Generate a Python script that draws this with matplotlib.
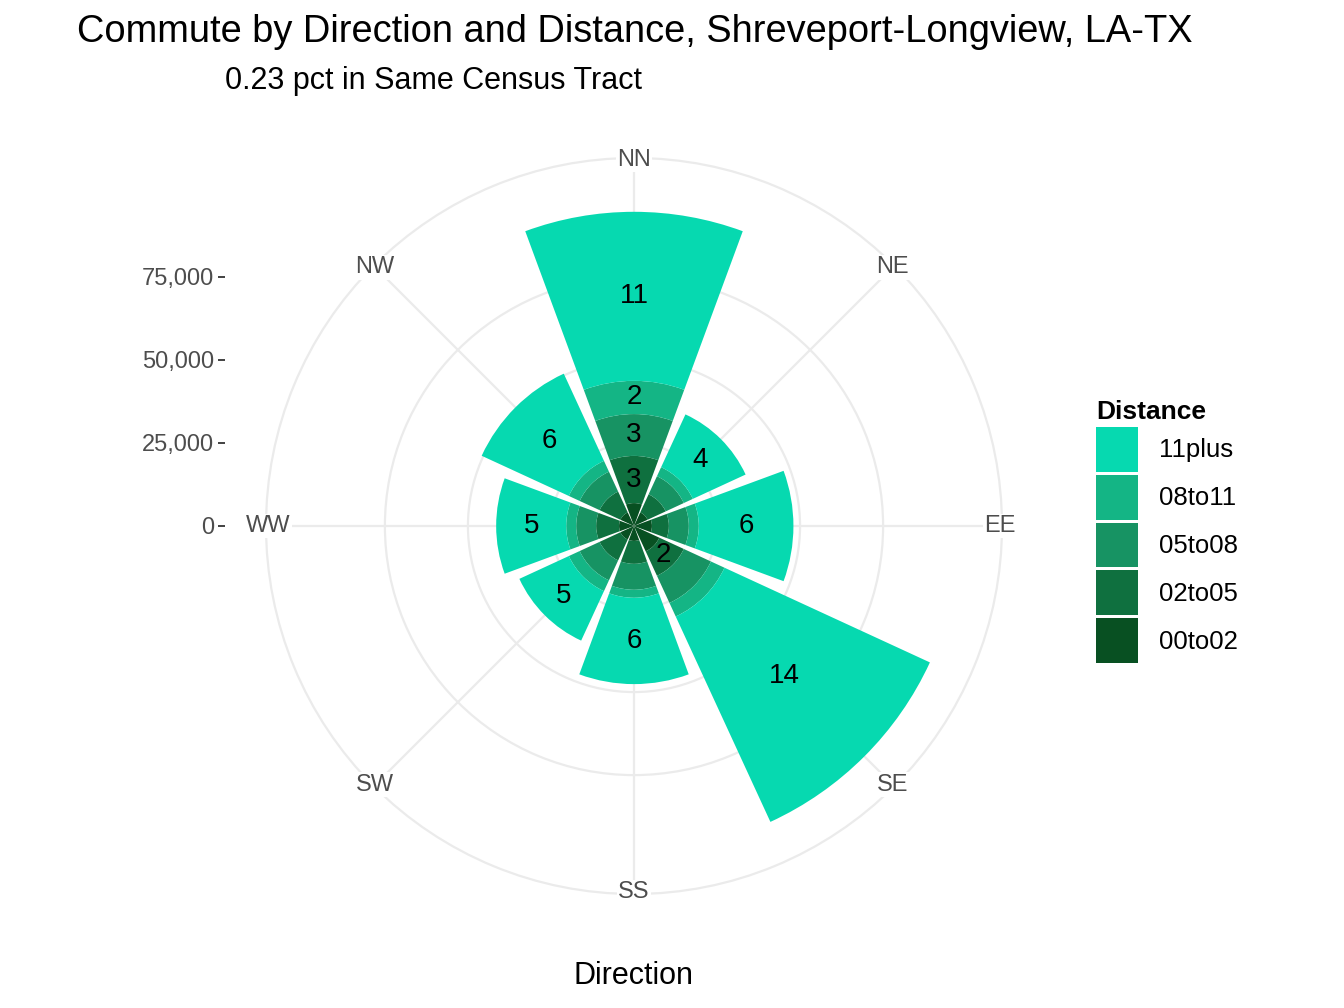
import matplotlib.pyplot as plt
import numpy as np
from matplotlib.patches import Patch

plt.rcParams["font.family"] = "Liberation Sans"

directions = ["NN", "NE", "EE", "SE", "SS", "SW", "WW", "NW"]
categories = ["00to02", "02to05", "05to08", "08to11", "11plus"]
colors = ["#085022", "#0f703f", "#179363", "#14b585", "#06d9b0"]

# commuters per direction, per distance band (stack order inner -> outer)
d00to02 = [6900, 4500, 5400, 8400, 4500, 4500, 4500, 4500]
d02to05 = [14200, 6000, 5100, 8100, 6900, 6900, 6900, 6900]
d05to08 = [12600, 6000, 6000, 9000, 7800, 6600, 6000, 6600]
d08to11 = [10000, 3000, 3000, 4500, 2400, 3600, 3000, 3600]
d11plus = [50900, 17500, 28500, 68100, 26000, 16400, 21100, 28900]

# percentage labels per band ("" = not shown)
lab02to05 = ["3", "", "", "2", "", "", "", ""]
lab05to08 = ["3", "", "", "", "", "", "", ""]
lab08to11 = ["2", "", "", "", "", "", "", ""]
lab11plus = ["11", "4", "6", "14", "6", "5", "5", "6"]

values = [d00to02, d02to05, d05to08, d08to11, d11plus]
labels = [[""] * 8, lab02to05, lab05to08, lab08to11, lab11plus]

W, H = 1344, 1008
cx, cy, R = 634, 526, 368
rmax = 110800

fig = plt.figure(figsize=(W / 100, H / 100), dpi=100)
ax = fig.add_axes([(cx - R) / W, (H - cy - R) / H, 2 * R / W, 2 * R / H], projection="polar")
ax.set_theta_zero_location("N")
ax.set_theta_direction(-1)
ax.set_ylim(0, rmax)

theta = np.deg2rad(np.arange(8) * 45)
width = np.deg2rad(45 * 0.9)
bottom = np.zeros(8)
for vals, col, labs in zip(values, colors, labels):
    vals = np.array(vals, dtype=float)
    ax.bar(theta, vals, width=width, bottom=bottom, color=col, edgecolor="none", zorder=2)
    for t, b, v, lab in zip(theta, bottom, vals, labs):
        if lab:
            ax.text(t, b + v / 2, lab, ha="center", va="center", fontsize=20, zorder=3)
    bottom += vals

ax.set_xticks(theta)
ax.set_xticklabels([])
for t, d in zip(theta, directions):
    ax.text(t, rmax * 0.995, d, ha="center", va="center", fontsize=17, color="#4d4d4d",
            zorder=5, bbox=dict(facecolor="white", edgecolor="none", pad=1))
ax.set_yticks([25000, 50000, 75000])
ax.set_yticklabels([])
ax.grid(color="#ebebeb", linewidth=1.6, zorder=0)
ax.spines["polar"].set_color("#ebebeb")
ax.spines["polar"].set_linewidth(1.6)
ax.set_axisbelow(True)

# radial value axis on the left, like ggplot
yax = fig.add_axes([225 / W, (H - cy) / H, 0.001, R / H])
yax.set_ylim(0, rmax)
yax.set_xticks([])
yax.set_yticks([0, 25000, 50000, 75000])
yax.set_yticklabels(["0", "25,000", "50,000", "75,000"], fontsize=17, color="#4d4d4d")
yax.tick_params(axis="y", length=5, color="#333333", width=1.3, pad=3)
for s in yax.spines.values():
    s.set_visible(False)
yax.patch.set_alpha(0)

fig.text(77 / W, 1 - 32 / H, "Commute by Direction and Distance, Shreveport-Longview, LA-TX",
         fontsize=27.4, va="center", ha="left")
fig.text(225 / W, 1 - 81 / H, "0.23 pct in Same Census Tract", fontsize=22, va="center", ha="left")
fig.text(cx / W, 1 - 976 / H, "Direction", fontsize=22, va="center", ha="center")

handles = [Patch(facecolor=c, edgecolor="none") for c in colors[::-1]]
leg = fig.legend(handles, categories[::-1], title="Distance", loc="upper left",
                 bbox_to_anchor=(1078 / W, 1 - 382 / H), frameon=False, fontsize=18.5,
                 title_fontsize=19, handlelength=1.65, handleheight=2.3, labelspacing=0.12,
                 handletextpad=0.8, borderpad=0.2)
leg.get_title().set_fontweight("bold")
leg._legend_box.align = "left"

fig.savefig("out.png", dpi=100)
